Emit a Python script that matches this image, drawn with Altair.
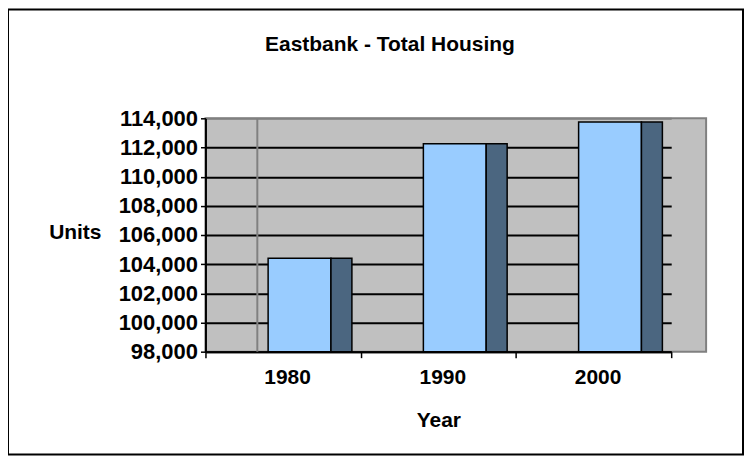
import altair as alt
import pandas as pd

# ---- data ----
years = ["1980", "1990", "2000"]
units = [104400, 112250, 113750]
y_ticks = [98000, 100000, 102000, 104000, 106000, 108000, 110000, 112000, 114000]
chart_title = "Eastbank - Total Housing"
x_title = "Year"
y_title = "Units"

df = pd.DataFrame({"Year": years, "Units": units})

FONT = "Liberation Sans"
FS = 21
W, H = 502, 234
BAND_END = 467

x_enc = alt.X(
    "Year:N",
    sort=years,
    scale=alt.Scale(range=[0, BAND_END], paddingInner=0, paddingOuter=0),
    axis=alt.Axis(
        title=x_title,
        labelAngle=0,
        labelOffset=4,
        tickBand="extent",
        tickSize=6,
        tickWidth=1.5,
        tickColor="black",
        domainColor="black",
        domainWidth=2,
        labelFont=FONT,
        labelFontSize=FS,
        labelFontWeight="bold",
        labelColor="black",
        labelPadding=9,
        titleFont=FONT,
        titleFontSize=FS,
        titleFontWeight="bold",
        titleColor="black",
        titleY=69,
        titleBaseline="middle",
        grid=False,
    ),
)

y_enc = alt.Y(
    "Units:Q",
    scale=alt.Scale(domain=[98000, 114000], zero=False, nice=False),
    axis=alt.Axis(
        values=y_ticks,
        format=",d",
        title=y_title,
        titleAngle=0,
        titleX=-131,
        titleY=115,
        titleAlign="center",
        titleBaseline="middle",
        titleFont=FONT,
        titleFontSize=FS,
        titleFontWeight="bold",
        titleColor="black",
        labelFont=FONT,
        labelFontSize=22,
        labelFontWeight="bold",
        labelColor="black",
        labelPadding=3,
        tickSize=5,
        tickWidth=1.5,
        tickColor="black",
        domainColor="black",
        domainWidth=2,
        grid=True,
        gridColor={"condition": {"test": "datum.value === 114000", "value": "#808080"}, "value": "black"},
        gridOpacity=1,
        gridWidth=2,
    ),
)

border = alt.Chart(pd.DataFrame({"k": [0]})).mark_rect(
    fillOpacity=0, stroke="black", strokeWidth=2
).encode(
    x=alt.value(-198), x2=alt.value(539), y=alt.value(-109), y2=alt.value(337)
)

wall_edge = alt.Chart(pd.DataFrame({"k": [0]})).mark_rule(
    color="#808080", strokeWidth=2
).encode(x=alt.value(52), y=alt.value(0), y2=alt.value(H))

front = alt.Chart(df).mark_bar(
    width=63, xOffset=16.5, color="#99CCFF", stroke="black", strokeWidth=1.5
).encode(x=x_enc, y=y_enc, y2=alt.Y2(datum=98000))

side = alt.Chart(df).mark_bar(
    width=21, xOffset=58.5, color="#4B6680", stroke="black", strokeWidth=1.5
).encode(x=x_enc, y=y_enc, y2=alt.Y2(datum=98000))

chart = alt.layer(border, wall_edge, front, side).properties(
    width=W,
    height=H,
    autosize="none",
    padding={"left": 198, "top": 110, "right": 38, "bottom": 106},
    title=alt.TitleParams(
        chart_title,
        font=FONT,
        fontSize=FS,
        fontWeight="bold",
        color="black",
        anchor="middle",
        dx=-66,
        offset=-47,
    ),
).configure_view(fill="#C0C0C0", stroke="#808080", strokeWidth=2)

chart.save("out.html", embed_options={"renderer": "svg", "actions": False})
